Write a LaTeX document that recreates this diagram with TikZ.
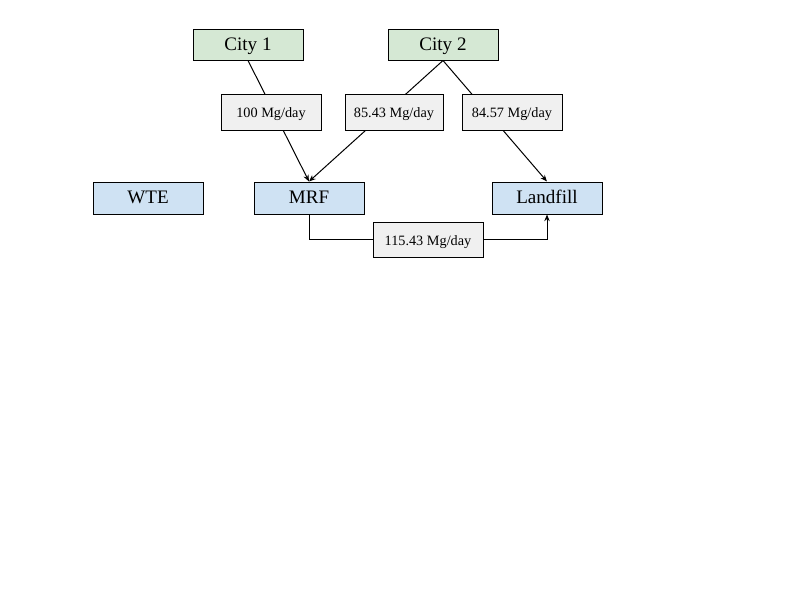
\documentclass[tikz,border=0pt]{standalone}
\usepackage{fontspec}
\setmainfont{Liberation Serif}
\usetikzlibrary{arrows.meta}
\definecolor{citygreen}{HTML}{D5E8D4}
\definecolor{facblue}{HTML}{CFE2F3}
\definecolor{labgray}{HTML}{F0F0F0}
\tikzset{
  px/.style={x=0.75pt,y=-0.75pt},
  txt/.style={text height=0.84em, text depth=0pt},
  citybox/.style={draw, txt, line width=0.75pt, fill=citygreen, minimum width=110*0.75pt, minimum height=31*0.75pt, inner sep=0pt, font=\fontsize{14.3}{16}\selectfont},
  facbox/.style={draw, txt, line width=0.75pt, fill=facblue, minimum width=110*0.75pt, minimum height=32*0.75pt, inner sep=0pt, font=\fontsize{14.3}{16}\selectfont},
  flowlab/.style={draw, txt, line width=0.75pt, fill=labgray, minimum height=36*0.75pt, inner sep=0pt, font=\fontsize{10.7}{12}\selectfont},
  arr/.style={line width=0.75pt, -{Stealth[length=5pt,width=4pt]}}
}
\begin{document}
\begin{tikzpicture}[px]
\useasboundingbox (0,0) rectangle (800,600);
\node[citybox] (c1) at (248,44.5) {City 1};
\node[citybox] (c2) at (443,44.5) {City 2};
\node[facbox] (wte) at (148,198) {WTE};
\node[facbox] (mrf) at (309,198) {MRF};
\node[facbox] (lf) at (547,198) {Landfill};
\coordinate (b1) at (309,239);
\coordinate (b2) at (547,239);
\draw[arr] (c1.south) -- (mrf.north);
\draw[arr] (c2.south) -- (mrf.north);
\draw[arr] (c2.south) -- (lf.north);
\draw[arr] (mrf.south) -- (b1) -- (b2) -- (lf.south);
\node[flowlab, minimum width=100*0.75pt] (l1) at (271,112) {100 Mg/day};
\node[flowlab, minimum width=98*0.75pt] (l2) at (394,112) {85.43 Mg/day};
\node[flowlab, minimum width=100*0.75pt] (l3) at (512,112) {84.57 Mg/day};
\node[flowlab, minimum width=110*0.75pt, minimum height=35*0.75pt] (l4) at (428,239.5) {115.43 Mg/day};
\end{tikzpicture}
\end{document}
